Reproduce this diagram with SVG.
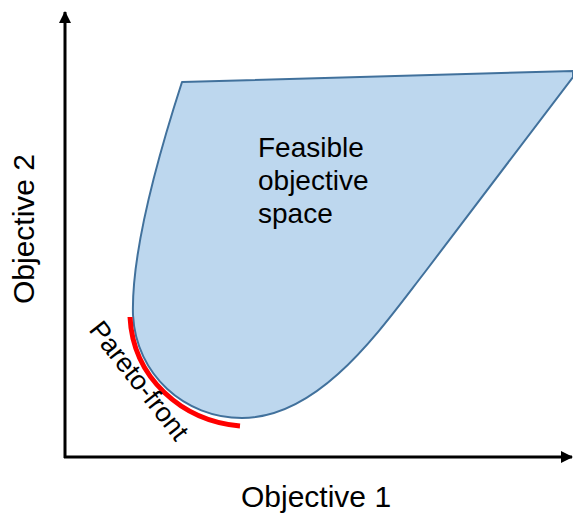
<svg xmlns="http://www.w3.org/2000/svg" width="573" height="514" viewBox="0 0 573 514">
  <style>
    text { font-family: "Liberation Sans", Arial, sans-serif; fill: #000; }
    .axis { stroke: #000; stroke-width: 3; fill: none; }
  </style>
  <defs>
    <marker id="arrow" viewBox="0 0 12 12" refX="11" refY="6" markerWidth="12" markerHeight="12" markerUnits="userSpaceOnUse" orient="auto">
      <path d="M0,0 L12,6 L0,12 Z" fill="#000"/>
    </marker>
  </defs>
  <rect width="573" height="514" fill="#fff"/>
  <g id="region">
    <path d="M182,82 L573,71 L573,77 L425,272 C380,330 320,418 242,418 C185,418 136,375 133,315 C131,250 160,150 182,82 Z" fill="#BDD7EE" stroke="#41719C" stroke-width="2" stroke-linejoin="round"/>
    <text x="258" y="157" font-size="28">Feasible</text>
    <text x="258" y="190" font-size="28">objective</text>
    <text x="258" y="223" font-size="28">space</text>
  </g>
  <g id="pareto">
    <path d="M130,317 C133,378 182,421 240,426" fill="none" stroke="#FF0000" stroke-width="5"/>
    <text transform="translate(88,330) rotate(52)" font-size="27">Pareto-front</text>
  </g>
  <g id="connectors">
    <line class="axis" x1="65" y1="458" x2="65" y2="12" marker-end="url(#arrow)"/>
    <line class="axis" x1="64" y1="457" x2="572" y2="457" marker-end="url(#arrow)"/>
  </g>
  <g id="labels">
    <text x="241" y="507" font-size="30">Objective 1</text>
    <text transform="translate(34,229) rotate(-90)" font-size="30" text-anchor="middle">Objective 2</text>
  </g>
</svg>
